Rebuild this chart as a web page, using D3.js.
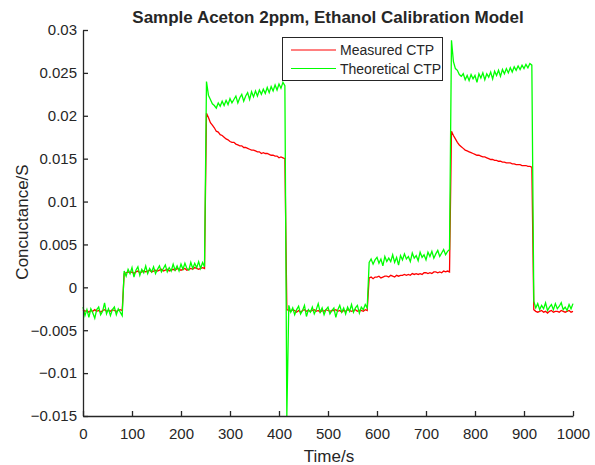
<!DOCTYPE html>
<html lang="en">
<head>
    <meta charset="UTF-8">
    <script type="text/javascript" src="https://d3js.org/d3.v7.min.js"></script>
    <title>Sample Aceton 2ppm</title>
    <style>
        body { margin: 0; background: #fff; }
        text { font-family: "Liberation Sans", Arial, sans-serif; fill: #262626; }
    </style>
</head>
<body>
    <svg id="plot"></svg>
    <script>
        const width = 595;
        const height = 465;
        const margin = {"top": 30, "bottom": 49, "left": 83, "right": 22};

        // samples every 4 s from 0 to 1000 s, values in 1e-3 S
        const timeStep = 4;
        const measured = [
            -2.6,-2.8,-2.7,-2.9,-2.7,-2.8,-2.6,-2.8,-2.7,-2.9,-2.7,-2.6,-2.8,-2.7,-2.8,-2.6,-2.7,-2.8,-2.7,-2.6,-2.7,
            1.6,1.7,1.8,1.7,1.8,1.6,1.8,1.9,1.7,1.8, 1.9,1.8,1.9,2.0,1.8,1.9,2.0,1.9,2.0,2.1,
            1.9,2.0,2.1,1.9,2.0,2.1,2.0,2.2,2.1,2.0, 2.1,2.2,2.0,2.1,2.2,2.1,2.3,2.2,2.1,2.2, 2.3,2.2,
            20.3,19.8,19.2,18.9,18.6,18.2,18.1,17.8,17.7,17.5, 17.3,17.2,17.0,16.9,16.9,16.7,16.6,16.5,16.5,16.3,
            16.3,16.2,16.1,16.0,16.0,15.9,15.8,15.8,15.6,15.7, 15.6,15.6,15.5,15.4,15.4,15.3,15.3,15.1,15.2,15.1,15.0,
            -2.6,
            -2.7,-2.8,-2.6,-2.7,-2.9,-2.7,-2.9,-2.7,-2.6,-2.8, -2.7,-2.8,-2.7,-2.6,-2.8,-2.7,-2.9,-2.7,-2.8,-2.6,
            -2.7,-2.8,-2.7,-2.7,-2.6,-2.8,-2.7,-2.9,-2.7,-2.8, -2.6,-2.7,-2.8,-2.7,-2.6,-2.8,-2.7,-2.7,-2.8,-2.6,
            -2.7,
            1.1,1.2,1.0,1.2,1.2,1.3,1.1,1.2,1.3,1.3, 1.2,1.4,1.3,1.2,1.4,1.3,1.4,1.4,1.5,1.4,
            1.5,1.4,1.6,1.5,1.6,1.5,1.6,1.5,1.7,1.7, 1.6,1.7,1.6,1.8,1.8,1.7,1.8,1.7,1.9,1.8, 1.9,1.8,
            18.2,17.7,17.3,16.9,16.6,16.4,16.2,16.0,15.9,15.8, 15.7,15.6,15.5,15.4,15.4,15.3,15.2,15.2,15.1,15.0,
            14.9,14.9,14.8,14.8,14.7,14.7,14.6,14.6,14.5,14.5, 14.5,14.4,14.4,14.3,14.3,14.3,14.2,14.2,14.2,14.1, 14.1,14.0,
            -2.6,-2.8,-2.9,-2.8,-2.7,-2.9,-2.8,-3.0,-2.8,-2.7, -2.9,-2.8,-2.8,-2.9,-2.7,-2.8,-2.9,-2.8,-2.7,-2.9,-2.8
        ];
        const theoretical = [
            -2.3,-3.3,-2.6,-3.5,-2.5,-3.0,-3.6,-2.6,-2.3,-3.2,-2.8,-1.8,-3.1,-2.5,-3.3,-2.6,-2.3,-3.2,-2.5,-2.9,-3.3,
            1.9,1.3,2.1,1.6,2.3,1.2,2.0,2.4,1.4,2.1, 1.7,2.5,1.6,2.2,1.8,2.4,1.6,2.1,2.5,1.8,
            2.2,2.6,1.8,2.3,1.9,2.7,2.0,2.5,1.9,2.7, 2.1,2.8,2.2,2.0,2.9,2.2,2.8,2.3,3.0,2.2, 2.9,2.4,
            24.0,22.4,21.9,21.4,21.2,20.9,21.5,21.1,21.7,21.2, 21.8,21.3,22.0,21.5,21.9,22.3,21.5,22.1,22.5,21.7,
            22.3,22.7,21.9,22.8,22.2,22.9,22.3,23.0,22.5,23.1, 22.6,23.3,22.7,23.4,22.9,23.6,23.0,23.7,23.2,23.9,23.5,
            -15.0,
            -2.1,-2.9,-2.4,-3.2,-2.6,-2.2,-3.1,-2.7,-2.1,-3.4, -2.6,-2.9,-2.3,-3.1,-2.6,-1.9,-2.9,-2.4,-3.2,-2.6,
            -2.3,-3.1,-2.7,-2.4,-3.5,-2.6,-2.1,-2.9,-2.4,-3.1, -2.3,-2.8,-2.0,-2.9,-2.4,-2.1,-3.0,-2.3,-2.6,-2.0,
            -2.4,
            2.9,3.3,2.7,3.2,3.5,2.8,3.3,2.5,3.6,3.0, 3.4,3.0,3.8,2.9,3.5,2.6,3.7,3.2,3.9,3.3,
            3.6,3.0,4.0,3.4,3.7,3.1,4.1,3.5,3.8,3.2, 4.1,3.6,4.2,3.4,3.9,4.3,3.6,4.0,4.4,3.8, 4.2,4.4,
            28.8,26.3,25.5,25.3,24.8,24.6,24.9,24.2,24.7,24.1, 24.8,24.3,24.7,23.9,24.9,24.4,25.0,24.2,24.9,24.5,
            25.1,24.3,25.2,24.7,25.3,24.6,25.4,24.9,25.5,25.0, 25.6,25.1,25.7,25.3,25.8,25.4,25.9,25.5,26.0,25.6, 26.1,25.9,
            -1.6,-2.4,-1.9,-2.6,-2.1,-2.5,-1.8,-2.7,-2.3,-2.0, -2.6,-1.9,-2.5,-2.2,-1.8,-2.6,-2.3,-2.7,-2.0,-2.5,-1.9
        ];
        const xTicks = [0, 100, 200, 300, 400, 500, 600, 700, 800, 900, 1000];
        const yTicks = [-0.015, -0.01, -0.005, 0, 0.005, 0.01, 0.015, 0.02, 0.025, 0.03];
        const seriesNames = ["Measured CTP", "Theoretical CTP"];
        const seriesColors = ["#ff0000", "#00ff00"];

        const svg = d3.select("#plot").attr("width", width).attr("height", height);

        var x = d3.scaleLinear()
            .domain([0, 1000])
            .range([margin.left, width - margin.right]);
        var y = d3.scaleLinear()
            .domain([-0.015, 0.03])
            .range([height - margin.bottom, margin.top]);

        var line = d3.line()
            .x((d, i) => x(i * timeStep))
            .y(d => y(d * 1e-3));

        [measured, theoretical].forEach((s, k) => {
            svg.append("path").attr("d", line(s))
                .attr("fill", "none").attr("stroke", seriesColors[k])
                .attr("stroke-width", 1.3);
        });

        var x_axis = d3.axisBottom(x).tickValues(xTicks).tickFormat(d3.format("d"))
            .tickSizeInner(-5).tickSizeOuter(0).tickPadding(12);
        svg.append("g").attr("transform", `translate(0, ${y(-0.015)})`).call(x_axis)
            .call(g => g.selectAll("text").style("font-size", "15px").attr("fill", "#262626"));
        var y_axis = d3.axisLeft(y).tickValues(yTicks).tickFormat(d => d3.format("")(+d.toFixed(3)))
            .tickSizeInner(-5).tickSizeOuter(0).tickPadding(6);
        svg.append("g").attr("transform", `translate(${margin.left}, 0)`).call(y_axis)
            .call(g => g.selectAll("text").style("font-size", "15px").attr("fill", "#262626"));
        svg.selectAll(".domain, .tick line").attr("stroke", "#262626").attr("stroke-width", 1.3);

        svg.append("text").attr("x", 328).attr("y", 23).attr("text-anchor", "middle")
            .style("font-size", "17px").style("font-weight", "bold").attr("fill", "#000")
            .text("Sample Aceton 2ppm, Ethanol Calibration Model");
        svg.append("text").attr("x", 329).attr("y", 462).attr("text-anchor", "middle")
            .style("font-size", "17px").text("Time/s");
        svg.append("text").attr("transform", "translate(28, 222) rotate(-90)").attr("text-anchor", "middle")
            .style("font-size", "17px").text("Concuctance/S");

        // legend
        const legend = svg.append("g");
        legend.append("rect").attr("x", 282.5).attr("y", 37.5).attr("width", 160).attr("height", 43)
            .attr("fill", "#fff").attr("stroke", "#262626").attr("stroke-width", 1);
        seriesNames.forEach((name, k) => {
            legend.append("line").attr("x1", 291).attr("x2", 336)
                .attr("y1", 50 + k * 18.5).attr("y2", 50 + k * 18.5)
                .attr("stroke", seriesColors[k]).attr("stroke-width", 1);
            legend.append("text").attr("x", 340).attr("y", 55 + k * 18.5)
                .style("font-size", "14px").text(name);
        });
    </script>
</body>
</html>
